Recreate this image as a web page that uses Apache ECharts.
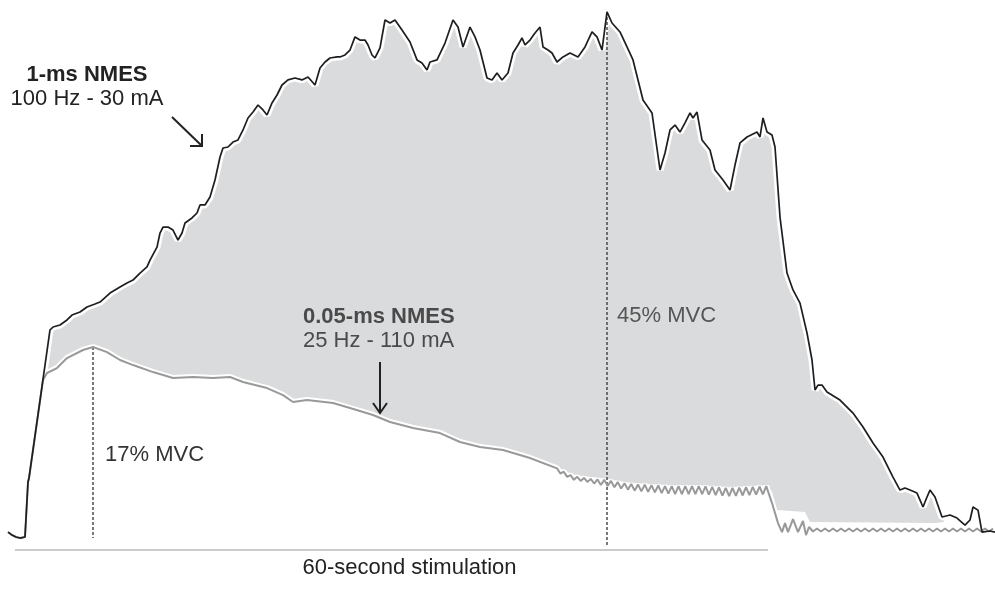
<!DOCTYPE html>
<html>
<head>
<meta charset="utf-8">
<script src="https://cdn.jsdelivr.net/npm/echarts@6/dist/echarts.min.js"></script>
<style>
html,body{margin:0;padding:0;background:#fff;}
#chart{width:995px;height:589px;}
</style>
</head>
<body>
<div id="chart"></div>
<script>
// time in seconds, force in % MVC
var black1ms = [
[-1.76,0.52],[-1.44,0.26],[-1.12,0.09],[-0.8,0],[-0.4,0.09],[-0.16,4.87],[-0.08,5.22],[1.6,18.09],[1.84,18.35],[2.4,18.52],[2.96,18.96],[3.36,19.39],[4.0,19.65],[4.56,20.09],[5.2,20.35],[5.6,20.52],
[6.4,21.30],[7.2,21.83],[7.76,22.17],[8.24,22.43],[8.8,23.04],[9.36,23.57],[9.6,24.17],[10.16,25.30],[10.4,26.52],[10.64,27.04],[11.04,27.04],[11.44,26.78],[11.84,25.91],[12.16,26.52],[12.4,27.39],[12.96,27.83],[13.36,28.26],[13.6,28.96],[14.0,28.96],[14.4,29.65],[14.8,31.13],[15.2,33.13],[15.44,33.91],[15.84,34.0],[16.24,34.43],[16.64,34.61],[17.04,35.48],[17.44,36.52],[17.84,37.04],[18.24,37.65],[18.64,37.22],[18.96,36.78],[19.36,37.83],[19.76,38.52],[20.16,39.39],[20.64,39.83],[21.2,40.0],[21.76,39.83],[22.24,40.09],[22.8,39.39],[23.2,40.87],[23.6,41.39],[24.0,41.74],[24.56,41.83],
[24.8,41.83],[25.2,42.0],[25.6,42.43],[26.0,43.57],[26.4,43.30],[26.8,43.30],[27.04,42.87],[27.36,42.0],[27.6,41.74],[28.0,42.61],[28.4,45.04],[28.8,44.78],[29.2,45.04],[29.76,44.17],[30.4,43.13],[30.96,41.57],[31.36,41.30],[31.76,40.70],[32.0,41.39],[32.56,41.57],[33.2,43.04],[33.84,45.04],[34.24,44.43],[34.64,42.70],[35.2,44.43],[35.6,43.57],[36.0,42.43],[36.56,40.0],[36.96,39.83],[37.36,40.43],[37.76,39.83],[38.24,40.43],[38.64,42.17],[39.04,42.87],[39.36,43.48],[39.6,42.87],[40.0,43.30],[40.4,43.91],[40.8,44.43],[41.04,42.70],[41.44,42.43],[41.76,42.17],[42.16,41.39],[42.64,41.83],[43.2,42.17],[43.84,41.83],[44.4,42.70],[44.96,44.0],[45.36,43.57],[45.76,42.43],[46.16,45.74],[46.56,44.78],[47.2,44.0],[47.76,42.70],[48.24,41.57],[49.04,38.09],[49.76,36.96],[50.4,32.0],
[50.8,33.48],[51.2,35.48],[51.6,35.91],[52.0,35.30],[52.4,36.09],[52.8,36.96],[53.04,36.52],[53.36,37.04],[53.76,34.61],[54.4,33.74],[54.8,32.0],[55.44,31.13],[56.0,30.26],[56.4,32.43],[56.8,34.35],[57.36,34.87],[58.16,35.30],[58.4,34.87],[58.64,36.52],[58.96,35.30],[59.36,35.04],[59.6,34.0],[60.0,27.91],[60.56,23.04],[61.04,21.57],[61.6,20.43],[62.16,17.83],[62.56,15.48],[62.8,12.87],[63.04,13.30],[63.36,13.30],[63.76,12.70],[64.8,12.0],[65.84,10.87],[66.64,9.65],[67.44,8.26],[68.24,7.04],[69.04,5.30],[69.6,4.17],[70.0,4.35],[70.4,4.17],[70.96,3.91],[71.44,2.70],[71.76,3.57],[72.0,4.17],[72.4,3.57],[72.96,1.83],[73.6,2.0],[74.16,1.74],[74.8,1.13],[75.2,1.57],[75.44,2.70],[75.84,2.43],[76.16,0.52],[76.8,0.61],[77.2,0.52]
];

var grey005ms = [
[-1.76,0.52],[-1.44,0.26],[-1.12,0.09],[-0.8,0],[-0.4,0.09],[-0.16,4.87],[-0.08,5.22],[1.04,13.74],[1.36,14.35],[2.16,14.78],[2.96,15.65],[4.24,16.35],[5.04,16.61],[6.16,16.17],[7.2,15.48],[8.24,15.04],[9.84,14.43],[11.44,13.91],[13.04,14.0],[14.64,13.91],[16.0,14.0],[17.04,13.57],[18.96,13.04],[20.24,12.43],[21.04,11.83],[22.16,12.0],[24.24,11.74],[25.6,11.30],[27.44,10.70],[28.8,10.09],[30.64,9.57],[32.8,9.13],[34.4,8.35],[36.0,7.91],[37.84,7.65],[40.0,6.96],
[42.16,6.06],[42.43,5.61],[42.70,5.77],[42.97,5.32],[43.24,5.48],[43.51,5.06],[43.78,5.32],[44.05,4.97],[44.32,5.23],[44.59,4.88],[44.86,5.14],[45.13,4.74],[45.40,5.10],[45.67,4.61],[45.94,5.06],[46.21,4.53],[46.48,4.97],[46.75,4.42],[47.02,4.86],[47.29,4.31],[47.56,4.76],[47.83,4.21],[48.10,4.70],[48.37,4.12],[48.64,4.66],[48.91,4.06],[49.18,4.64],[49.45,4.02],[49.72,4.59],[49.99,3.97],[50.26,4.57],[50.53,3.91],[50.80,4.52],[51.07,3.86],[51.34,4.52],[51.61,3.82],[51.88,4.52],[52.15,3.82],[52.42,4.52],[52.69,3.82],[52.96,4.52],[53.23,3.82],[53.50,4.52],[53.77,3.81],[54.04,4.49],[54.31,3.77],[54.58,4.45],[54.85,3.73],[55.12,4.41],[55.39,3.69],[55.66,4.37],[55.93,3.65],[56.20,4.36],[56.47,3.67],[56.74,4.39],[57.01,3.70],[57.28,4.42],[57.55,3.74],[57.82,4.45],[58.09,3.77],[58.36,4.48],[58.63,3.80],[58.90,4.52],
[59.36,3.04],[59.84,1.30],[60.16,0.52],[60.4,1.30],[60.64,0.52],[61.04,1.65],[61.44,0.52],[61.84,1.48],[62.08,0.26],[62.32,0.96],
[62.64,0.57],[62.96,0.83],[63.28,0.57],[63.60,0.83],[63.92,0.57],[64.24,0.83],[64.56,0.57],[64.88,0.83],[65.20,0.57],[65.52,0.83],[65.84,0.57],[66.16,0.83],[66.48,0.57],[66.80,0.83],[67.12,0.57],[67.44,0.83],[67.76,0.57],[68.08,0.83],[68.40,0.57],[68.72,0.83],[69.04,0.57],[69.36,0.83],[69.68,0.57],[70.00,0.83],[70.32,0.57],[70.64,0.83],[70.96,0.57],[71.28,0.83],[71.60,0.57],[71.92,0.83],[72.24,0.57],[72.56,0.83],[72.88,0.57],[73.20,0.83],[73.52,0.57],[73.84,0.83],[74.16,0.57],[74.48,0.83],[74.80,0.57],[75.12,0.83],[75.44,0.57],[75.76,0.83],[76.08,0.57],[76.40,0.83],[76.72,0.57],[77.04,0.83]
];

// lower edge of the shaded difference area
var shadeLower = [
[-1.76,0.52],[-1.44,0.26],[-1.12,0.09],[-0.8,0],[-0.4,0.09],[-0.16,4.87],[-0.08,5.22],[1.04,13.74],[1.36,14.35],[2.16,14.78],[2.96,15.65],[4.24,16.35],[5.04,16.61],[6.16,16.17],[7.2,15.48],[8.24,15.04],[9.84,14.43],[11.44,13.91],[13.04,14.0],[14.64,13.91],[16.0,14.0],[17.04,13.57],[18.96,13.04],[20.24,12.43],[21.04,11.83],[22.16,12.0],[24.24,11.74],[25.6,11.30],[27.44,10.70],[28.8,10.09],[30.64,9.57],[32.8,9.13],[34.4,8.35],[36.0,7.91],[37.84,7.65],[40.0,6.96],[42.16,6.17],[43.44,5.48],[46.16,5.13],[48.0,4.78],[51.2,4.52],[53.6,4.52],[56.0,4.35],[58.96,4.52],[59.36,4.0],[59.76,2.43],[62.0,2.26],[62.4,1.39],[72.4,1.30],[73.12,1.39],[73.44,5.04],[77.2,5.04]
];

// peak markers (time, peak % MVC)
var peak005 = [5.04, 16.61];
var peak1ms = [46.16, 45.74];
var stimBar = [-1.2, 59.04];

var chart = echarts.init(document.getElementById('chart'), null, {renderer:'canvas'});
var FONT = '"Liberation Sans", Arial, Helvetica, sans-serif';
function txt(x, y, s, opts) {
  return {
    type: 'text', x: x, y: y, z: 100,
    style: Object.assign({
      text: s, font: (opts && opts.bold ? 'bold ' : '') + '22px ' + FONT,
      fill: (opts && opts.color) || '#222',
      textAlign: (opts && opts.align) || 'left', align: (opts && opts.align) || 'left',
      textVerticalAlign: 'middle', verticalAlign: 'middle'
    }, {})
  };
}
function pl(points, color) {
  return {type:'polyline', z:100, shape:{points:points}, style:{stroke:color||'#222', lineWidth:2, fill:null}};
}

var option = {
  animation: false,
  backgroundColor: '#fff',
  grid: {left:0, right:0, top:0, bottom:0},
  xAxis: {type:'value', min:-2.4, max:77.2, show:false},
  yAxis: {type:'value', min:-4.43, max:46.78, show:false},
  series: [
    {type:'line', data:black1ms, showSymbol:false, z:1, lineStyle:{width:0, opacity:0}, areaStyle:{color:'#dadbdc', opacity:1}, silent:true},
    {type:'line', data:shadeLower, showSymbol:false, z:2, lineStyle:{width:0, opacity:0}, areaStyle:{color:'#ffffff', opacity:1}, silent:true},
    {type:'line', data:black1ms, showSymbol:false, z:3, lineStyle:{width:7, color:'#ffffff'}, silent:true},
    {type:'line', data:grey005ms, showSymbol:false, z:3, lineStyle:{width:6, color:'#ffffff'}, silent:true},
    {type:'line', data:[[peak005[0], peak005[1]],[peak005[0], 0]], showSymbol:false, z:4, lineStyle:{width:1.3, color:'#333', type:[3,2]}, silent:true},
    {type:'line', data:[[peak1ms[0], peak1ms[1]],[peak1ms[0], -0.78]], showSymbol:false, z:4, lineStyle:{width:1.3, color:'#333', type:[3,2]}, silent:true},
    {type:'line', data:[[stimBar[0], -1.04],[stimBar[1], -1.04]], showSymbol:false, z:4, lineStyle:{width:2, color:'#cccccc'}, silent:true},
    {type:'line', data:grey005ms, showSymbol:false, z:5, lineStyle:{width:2, color:'#999999'}, silent:true},
    {type:'line', data:black1ms, showSymbol:false, z:6, lineStyle:{width:1.7, color:'#1e1e1e'}, silent:true}
  ],
  graphic: [
    txt(87, 74.5, '1-ms NMES', {bold:true, align:'center'}),
    txt(87, 99, '100 Hz - 30 mA', {align:'center'}),
    txt(303, 316.5, '0.05-ms NMES', {bold:true, color:'#4a4a4a'}),
    txt(303, 341, '25 Hz - 110 mA', {color:'#4a4a4a'}),
    txt(617, 315.5, '45% MVC', {color:'#555'}),
    txt(105, 455, '17% MVC', {color:'#333'}),
    txt(409.5, 567.5, '60-second stimulation', {align:'center'}),
    pl([[172,117],[202,146]]),
    pl([[190,146],[202,146],[202,134]]),
    pl([[380,362],[380,413]]),
    pl([[373,403],[380,413],[387,403]])
  ]
};
chart.setOption(option);
</script>
</body>
</html>
